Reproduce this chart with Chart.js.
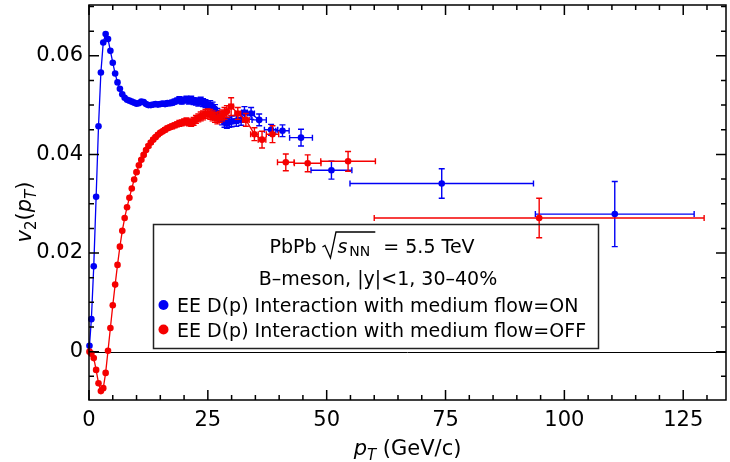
<!DOCTYPE html>
<html>
<head>
<meta charset="utf-8">
<script src="https://cdn.jsdelivr.net/npm/chart.js@4/dist/chart.umd.min.js"></script>
<style>
  html, body { margin: 0; padding: 0; background: #fff; }
</style>
</head>
<body>
<canvas id="v2Chart" width="730" height="462"></canvas>
<script>
// B-meson v2 vs pT, medium flow ON (blue) and OFF (red)

const bluePt = [
  0.1, 0.5, 1.0, 1.5, 2.0, 2.5, 3.0, 3.5, 4.0, 4.5,
  5.0, 5.5, 6.0, 6.5, 7.0, 7.5, 8.0, 8.5, 9.0, 9.5,
  10.0, 10.5, 11.0, 11.5, 12.0, 12.5, 13.0, 13.5, 14.0, 14.5,
  15.0, 15.5, 16.0, 16.5, 17.0, 17.5, 18.0, 18.5, 19.0, 19.5,
  20.0, 20.5, 21.0, 21.5, 22.0, 22.5, 23.0, 23.5, 24.0, 24.5,
  25.0, 25.5, 26.0, 26.5, 27.0, 27.5, 28.0, 28.5, 29.0, 29.5,
  30.0, 31.0, 32.0, 32.7, 34.1, 35.8, 38.3, 40.7, 44.6, 51.0,
  74.2, 110.6
];
const blueV2 = [
  0.0012, 0.0066, 0.0173, 0.0314, 0.0457, 0.0566, 0.0627, 0.0644, 0.0634, 0.0610,
  0.0586, 0.0564, 0.0546, 0.0533, 0.0522, 0.0515, 0.0511, 0.0509, 0.0507, 0.0505,
  0.0503, 0.0504, 0.0507, 0.0506, 0.0502, 0.0500, 0.0500, 0.0501, 0.0502, 0.0501,
  0.0502, 0.0503, 0.0502, 0.0504, 0.0504, 0.0505, 0.0507, 0.0509, 0.0511, 0.0508,
  0.0510, 0.0512, 0.0509, 0.0511, 0.0508, 0.0507, 0.0506, 0.0508, 0.0505, 0.0503,
  0.0501, 0.0500, 0.0497, 0.0492, 0.0484, 0.0477, 0.0470, 0.0465, 0.0463, 0.0465,
  0.0467, 0.0468, 0.0470, 0.0485, 0.0483, 0.0470, 0.0450, 0.0448, 0.0434, 0.0368,
  0.0341, 0.0279
];
const blueErrY = [
  0, 0, 0, 0, 0, 0, 0, 0, 0, 0,
  0, 0, 0, 0, 0, 0, 0, 0, 0, 0,
  0.0002, 0.0002, 0.0002, 0.0002, 0.0002, 0.0003, 0.0003, 0.0003, 0.0003, 0.0003,
  0.0004, 0.0004, 0.0004, 0.0004, 0.0005, 0.0005, 0.0005, 0.0005, 0.0006, 0.0006,
  0.0006, 0.0006, 0.0007, 0.0007, 0.0007, 0.0007, 0.0008, 0.0008, 0.0008, 0.0008,
  0.0008, 0.0009, 0.0009, 0.0009, 0.0009, 0.0010, 0.0010, 0.0010, 0.0010, 0.0010,
  0.0011, 0.0011, 0.0011, 0.0012, 0.0012, 0.0012, 0.0011, 0.0012, 0.0017, 0.0018,
  0.0030, 0.0066
];
const blueErrX = [
  0, 0, 0, 0, 0, 0, 0, 0, 0, 0,
  0, 0, 0, 0, 0, 0, 0, 0, 0, 0,
  0, 0, 0, 0, 0, 0, 0, 0, 0, 0,
  0.25, 0.25, 0.25, 0.25, 0.25, 0.25, 0.25, 0.25, 0.25, 0.25,
  0.25, 0.25, 0.25, 0.25, 0.25, 0.25, 0.25, 0.25, 0.25, 0.25,
  0.25, 0.25, 0.25, 0.25, 0.25, 0.25, 0.25, 0.25, 0.25, 0.25,
  0.5, 0.5, 0.5, 0.6, 0.7, 1.5, 1.4, 1.4, 2.4, 4.3,
  19.3, 16.7
];

const redPt = [
  0.1, 0.5, 1.0, 1.5, 2.0, 2.5, 3.0, 3.5, 4.0, 4.5,
  5.0, 5.5, 6.0, 6.5, 7.0, 7.5, 8.0, 8.5, 9.0, 9.5,
  10.0, 10.5, 11.0, 11.5, 12.0, 12.5, 13.0, 13.5, 14.0, 14.5,
  15.0, 15.5, 16.0, 16.5, 17.0, 17.5, 18.0, 18.5, 19.0, 19.5,
  20.0, 20.5, 21.0, 21.5, 22.0, 22.5, 23.0, 23.5, 24.0, 24.5,
  25.0, 25.5, 26.0, 26.5, 27.0, 27.5, 28.0, 28.5, 29.0, 29.9,
  31.3, 33.0, 34.8, 36.4, 38.6, 41.4, 46.0, 54.5, 94.7
];
const redV2 = [
  0.0000, -0.0004, -0.0013, -0.0037, -0.0064, -0.0080, -0.0074, -0.0043, 0.0002, 0.0048,
  0.0094, 0.0136, 0.0176, 0.0213, 0.0245, 0.0271, 0.0293, 0.0312, 0.0331, 0.0349,
  0.0364, 0.0378, 0.0389, 0.0399, 0.0409, 0.0417, 0.0424, 0.0430, 0.0435, 0.0440,
  0.0444, 0.0447, 0.0450, 0.0453, 0.0455, 0.0457, 0.0459, 0.0461, 0.0463, 0.0464,
  0.0466, 0.0467, 0.0465, 0.0464, 0.0467, 0.0471, 0.0474, 0.0477, 0.0479, 0.0482,
  0.0483, 0.0481, 0.0478, 0.0475, 0.0473, 0.0476, 0.0479, 0.0483, 0.0487, 0.0497,
  0.0483, 0.0470, 0.0441, 0.0430, 0.0441, 0.0384, 0.0382, 0.0386, 0.0271
];
const redErrY = [
  0, 0, 0, 0, 0, 0, 0, 0, 0, 0,
  0, 0, 0, 0, 0, 0, 0, 0, 0, 0,
  0.0002, 0.0002, 0.0002, 0.0002, 0.0002, 0.0003, 0.0003, 0.0003, 0.0003, 0.0003,
  0.0003, 0.0003, 0.0004, 0.0004, 0.0004, 0.0005, 0.0005, 0.0005, 0.0006, 0.0006,
  0.0006, 0.0007, 0.0007, 0.0007, 0.0008, 0.0008, 0.0008, 0.0009, 0.0009, 0.0009,
  0.0009, 0.0010, 0.0010, 0.0010, 0.0011, 0.0011, 0.0011, 0.0012, 0.0012, 0.0018,
  0.0012, 0.0013, 0.0013, 0.0017, 0.0017, 0.0017, 0.0017, 0.0020, 0.0040
];
const redErrX = [
  0, 0, 0, 0, 0, 0, 0, 0, 0, 0,
  0, 0, 0, 0, 0, 0, 0, 0, 0, 0,
  0, 0, 0, 0, 0, 0, 0, 0, 0, 0,
  0.25, 0.25, 0.25, 0.25, 0.25, 0.25, 0.25, 0.25, 0.25, 0.25,
  0.25, 0.25, 0.25, 0.25, 0.25, 0.25, 0.25, 0.25, 0.25, 0.25,
  0.25, 0.25, 0.25, 0.25, 0.25, 0.25, 0.25, 0.25, 0.25, 0.5,
  0.6, 0.7, 0.8, 0.8, 1.3, 1.75, 2.8, 5.75, 34.7
];

const xTicks = [0, 25, 50, 75, 100, 125];
const yTicks = [0, 0.02, 0.04, 0.06];
const xRange = [0, 134];
const yRange = [-0.0098, 0.0703];
const xMinorStep = 5;
const yMinorStep = 0.005;

const BLUE = '#0000f5';
const RED = '#f50000';
const FONT = '"DejaVu Sans"';
// points beyond these pT values are drawn as separate bins, not joined
const blueLineEnd = 36;
const redLineEnd = 37;

const legendLines = {
  system: 'PbPb',
  energy: '= 5.5 TeV',
  cut: 'B\u2013meson, |y|<1, 30\u201340%',
  on: 'EE D(p) Interaction with medium flow=ON',
  off: 'EE D(p) Interaction with medium flow=OFF'
};

function toPoints(xs, ys) {
  return xs.map((x, i) => ({ x: x, y: ys[i] }));
}

function runWidth(ctx, parts) {
  let w = 0;
  parts.forEach(p => { ctx.font = p.font; w += ctx.measureText(p.t).width + (p.gap || 0); });
  return w;
}
function drawRun(ctx, parts, x, y) {
  parts.forEach(p => {
    ctx.font = p.font;
    ctx.fillText(p.t, x, y + (p.dy || 0));
    x += ctx.measureText(p.t).width + (p.gap || 0);
  });
  return x;
}

// x/y error bars with small caps, under the markers
const errorBars = {
  id: 'errorBars',
  beforeDatasetDraw(chart, args) {
    const ds = chart.data.datasets[args.index];
    if (!ds.errY) return;
    const xs = chart.scales.x, ys = chart.scales.y, ctx = chart.ctx;
    ctx.save();
    ctx.strokeStyle = ds.borderColor;
    ctx.lineWidth = 1.4;
    ds.data.forEach((p, i) => {
      const px = xs.getPixelForValue(p.x), py = ys.getPixelForValue(p.y);
      const ey = ds.errY[i], ex = ds.errX[i];
      ctx.beginPath();
      if (ey > 0) {
        const t = ys.getPixelForValue(p.y + ey), b = ys.getPixelForValue(p.y - ey);
        ctx.moveTo(px, t); ctx.lineTo(px, b);
        ctx.moveTo(px - 3, t); ctx.lineTo(px + 3, t);
        ctx.moveTo(px - 3, b); ctx.lineTo(px + 3, b);
      }
      if (ex > 0) {
        const l = xs.getPixelForValue(p.x - ex), r = xs.getPixelForValue(p.x + ex);
        ctx.moveTo(l, py); ctx.lineTo(r, py);
        ctx.moveTo(l, py - 3); ctx.lineTo(l, py + 3);
        ctx.moveTo(r, py - 3); ctx.lineTo(r, py + 3);
      }
      ctx.stroke();
    });
    ctx.restore();
  }
};

// zero line, frame with inward ticks, axis titles and the text box
const decorations = {
  id: 'decorations',
  beforeDatasetsDraw(chart) {
    const ctx = chart.ctx, a = chart.chartArea, ys = chart.scales.y;
    const y0 = Math.round(ys.getPixelForValue(0)) + 0.5;
    ctx.save();
    ctx.strokeStyle = '#000';
    ctx.lineWidth = 1;
    ctx.beginPath();
    ctx.moveTo(a.left, y0); ctx.lineTo(a.right, y0);
    ctx.stroke();
    ctx.restore();
  },
  afterDraw(chart) {
    const ctx = chart.ctx, a = chart.chartArea;
    const xs = chart.scales.x, ys = chart.scales.y;
    ctx.save();
    ctx.strokeStyle = '#000';
    ctx.lineWidth = 1.5;
    ctx.strokeRect(a.left, a.top, a.right - a.left, a.bottom - a.top);

    ctx.beginPath();
    for (let v = xRange[0]; v <= xRange[1]; v += xMinorStep) {
      const px = xs.getPixelForValue(v);
      const len = xTicks.includes(v) ? 10 : 5;
      ctx.moveTo(px, a.bottom); ctx.lineTo(px, a.bottom - len);
      ctx.moveTo(px, a.top); ctx.lineTo(px, a.top + len);
    }
    const kFirst = Math.ceil(yRange[0] / yMinorStep - 1e-9);
    const kLast = Math.floor(yRange[1] / yMinorStep + 1e-9);
    for (let k = kFirst; k <= kLast; k++) {
      const v = +(k * yMinorStep).toFixed(3);
      const py = ys.getPixelForValue(v);
      const len = yTicks.includes(v) ? 10 : 5;
      ctx.moveTo(a.left, py); ctx.lineTo(a.left + len, py);
      ctx.moveTo(a.right, py); ctx.lineTo(a.right - len, py);
    }
    ctx.stroke();

    // axis titles
    ctx.fillStyle = '#000';
    ctx.textBaseline = 'alphabetic';
    ctx.textAlign = 'left';
    const xTitle = [
      { t: 'p', font: 'italic 21px ' + FONT },
      { t: 'T', font: 'italic 15px ' + FONT, dy: 5 },
      { t: ' (GeV/c)', font: '21px ' + FONT }
    ];
    const xc = (a.left + a.right) / 2;
    drawRun(ctx, xTitle, xc - runWidth(ctx, xTitle) / 2, 455);

    const yTitle = [
      { t: 'v', font: 'italic 21px ' + FONT },
      { t: '2', font: '15px ' + FONT, dy: 5 },
      { t: '(', font: '21px ' + FONT },
      { t: 'p', font: 'italic 21px ' + FONT },
      { t: 'T', font: 'italic 15px ' + FONT, dy: 5 },
      { t: ')', font: '21px ' + FONT }
    ];
    ctx.save();
    ctx.translate(31, 212);
    ctx.rotate(-Math.PI / 2);
    drawRun(ctx, yTitle, -runWidth(ctx, yTitle) / 2, 0);
    ctx.restore();

    // text box
    ctx.lineWidth = 1.5;
    ctx.strokeStyle = '#222';
    ctx.strokeRect(153.5, 224.5, 445, 124);

    // first line: PbPb sqrt(s_NN) = 5.5 TeV
    const big = '19px ' + FONT;
    ctx.font = big;
    const wSys = ctx.measureText(legendLines.system).width;
    const wEn = ctx.measureText(legendLines.energy).width;
    ctx.font = 'italic 19px ' + FONT;
    const wS = ctx.measureText('s').width;
    ctx.font = '14px ' + FONT;
    const wNN = ctx.measureText('NN').width;
    const gapSys = 6, gapS = 2;
    const total = wSys + gapSys + 15 + wS + gapS + wNN + 5 + 8 + wEn;
    let x = 372 - total / 2;
    const base1 = 253;
    ctx.font = big;
    ctx.fillText(legendLines.system, x, base1);
    x += wSys + gapSys;
    const barEnd = x + 15 + wS + gapS + wNN + 5;
    ctx.lineWidth = 1.3;
    ctx.strokeStyle = '#000';
    ctx.beginPath();
    ctx.moveTo(x, base1 - 6);
    ctx.lineTo(x + 2.5, base1 - 7.5);
    ctx.lineTo(x + 8, base1 + 5);
    ctx.lineTo(x + 13.5, base1 - 21);
    ctx.lineTo(barEnd, base1 - 21);
    ctx.stroke();
    x += 15;
    ctx.font = 'italic 19px ' + FONT;
    ctx.fillText('s', x, base1);
    x += wS + gapS;
    ctx.font = '14px ' + FONT;
    ctx.fillText('NN', x, base1 + 3);
    x = barEnd + 8;
    ctx.font = big;
    ctx.fillText(legendLines.energy, x, base1);

    ctx.textAlign = 'center';
    ctx.fillText(legendLines.cut, 378, 285);

    ctx.textAlign = 'left';
    ctx.fillText(legendLines.on, 177, 312);
    ctx.fillText(legendLines.off, 177, 336.5);
    ctx.fillStyle = BLUE;
    ctx.beginPath(); ctx.arc(163.5, 305, 5, 0, Math.PI * 2); ctx.fill();
    ctx.fillStyle = RED;
    ctx.beginPath(); ctx.arc(163.5, 329.5, 5, 0, Math.PI * 2); ctx.fill();
    ctx.restore();
  }
};

function series(xs, ys, ex, ey, color, lineEnd) {
  return {
    data: toPoints(xs, ys),
    errX: ex,
    errY: ey,
    showLine: true,
    borderColor: color,
    backgroundColor: color,
    borderWidth: 1.3,
    pointRadius: 3.3,
    pointBorderWidth: 0,
    pointBackgroundColor: color,
    clip: false,
    segment: {
      borderColor: c => (c.p1.parsed.x > lineEnd ? 'rgba(0,0,0,0)' : color)
    }
  };
}

new Chart(document.getElementById('v2Chart'), {
  type: 'scatter',
  data: {
    datasets: [
      series(redPt, redV2, redErrX, redErrY, RED, redLineEnd),
      series(bluePt, blueV2, blueErrX, blueErrY, BLUE, blueLineEnd)
    ]
  },
  options: {
    responsive: false,
    animation: false,
    devicePixelRatio: 1,
    layout: { padding: { left: 0, top: 5, right: 2, bottom: 0 } },
    plugins: { legend: { display: false }, tooltip: { enabled: false } },
    scales: {
      x: {
        type: 'linear',
        min: xRange[0],
        max: xRange[1],
        grid: { display: false, drawTicks: false },
        border: { display: false },
        ticks: {
          font: { family: 'DejaVu Sans', size: 21 },
          color: '#000',
          padding: 8,
          autoSkip: false,
          maxRotation: 0
        },
        afterBuildTicks: s => { s.ticks = xTicks.map(v => ({ value: v })); },
        afterFit: s => { s.height = 62; s.paddingLeft = 0; s.paddingRight = 0; }
      },
      y: {
        type: 'linear',
        min: yRange[0],
        max: yRange[1],
        grid: { display: false, drawTicks: false },
        border: { display: false },
        ticks: {
          font: { family: 'DejaVu Sans', size: 21 },
          color: '#000',
          padding: 6,
          callback: v => (v === 0 ? '0' : v.toFixed(2))
        },
        afterBuildTicks: s => { s.ticks = yTicks.map(v => ({ value: v })); },
        afterFit: s => { s.width = 89; s.paddingTop = 0; s.paddingBottom = 0; }
      }
    }
  },
  plugins: [errorBars, decorations]
});
</script>
</body>
</html>
